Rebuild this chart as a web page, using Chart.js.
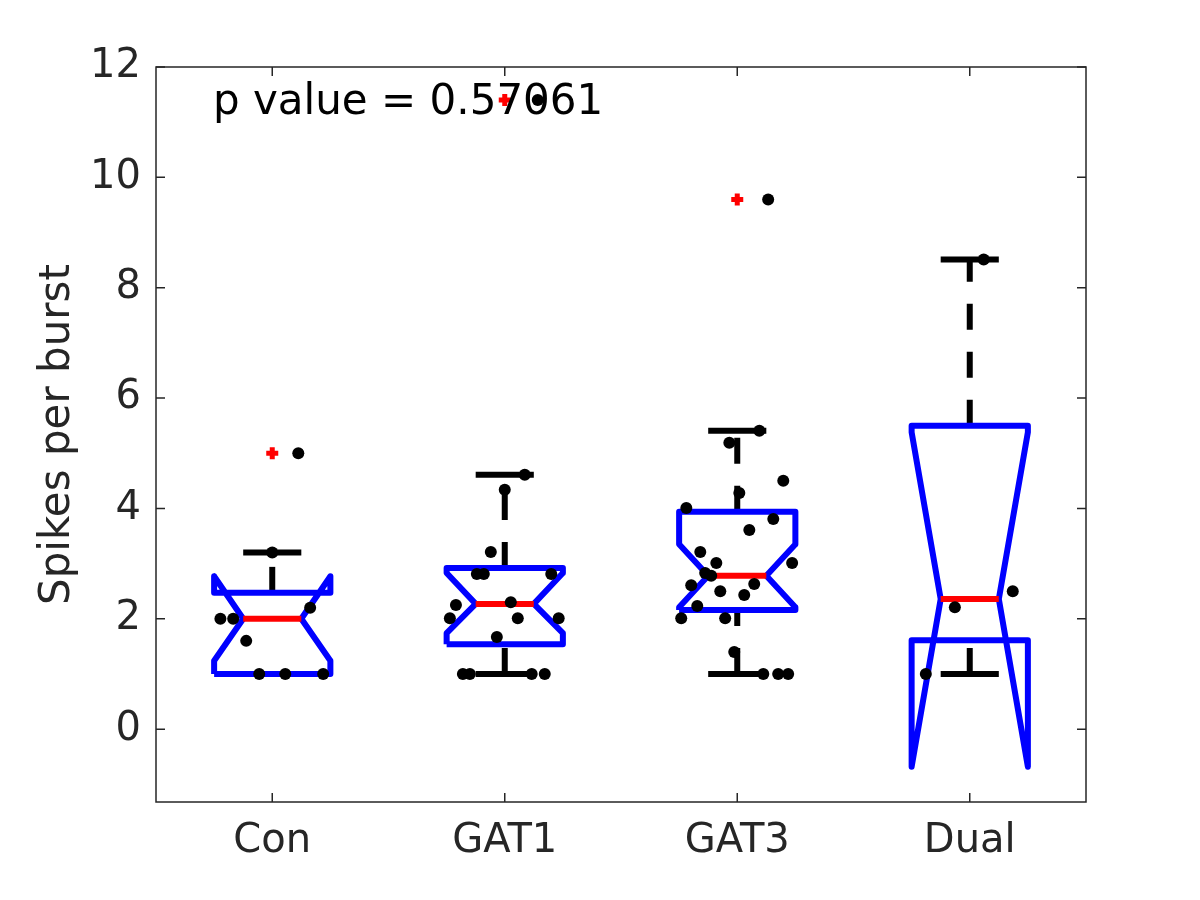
<!DOCTYPE html>
<html>
<head>
<meta charset="utf-8">
<script src="https://cdn.jsdelivr.net/npm/chart.js@4"></script>
<style>
  body { margin: 0; background: #fff; }
  canvas { display: block; }
</style>
</head>
<body>
<canvas id="boxChart" width="1200" height="900"></canvas>
<script>
const groups = ['Con', 'GAT1', 'GAT3', 'Dual'];
const yTicks = [0, 2, 4, 6, 8, 10, 12];
const pText = 'p value = 0.57061';

// box stats
const q1 = [1.0, 1.54, 2.16, 1.61];
const q3 = [2.47, 2.92, 3.94, 5.5];
const medians = [2.0, 2.27, 2.78, 2.36];
const notchLo = [1.24, 1.74, 2.21, -0.68];
const notchHi = [2.77, 2.83, 3.35, 5.38];
const whiskerLo = [1.0, 1.0, 1.0, 1.0];
const whiskerHi = [3.2, 4.61, 5.41, 8.51];
const outliers = [[5.0], [11.4], [9.6], []];

// raw points and their sideways jitter
const conY = [5.0, 3.2, 2.2, 2.0, 2.0, 1.6, 1.0, 1.0, 1.0];
const conDx = [0.112, 0, 0.163, -0.223, -0.168, -0.112, -0.056, 0.056, 0.219];
const gat1Y = [11.4, 4.61, 4.34, 3.21, 2.81, 2.81, 2.81, 2.25, 2.30, 2.01, 2.01, 2.01, 1.67, 1.0, 1.0, 1.0, 1.0];
const gat1Dx = [0.142, 0.086, 0, -0.06, -0.12, -0.09, 0.2, -0.21, 0.026, -0.236, 0.056, 0.232, -0.034, -0.18, -0.15, 0.116, 0.172];
const gat3Y = [9.6, 5.41, 5.19, 4.5, 4.28, 4.01, 3.81, 3.61, 3.21, 3.01, 3.01, 2.83, 2.78, 2.63, 2.61, 2.5, 2.43, 2.23, 2.01, 2.01, 1.4, 1.0, 1.0, 1.0];
const gat3Dx = [0.133, 0.095, -0.034, 0.198, 0.009, -0.219, 0.155, 0.052, -0.159, -0.09, 0.236, -0.138, -0.112, 0.073, -0.198, -0.073, 0.03, -0.172, -0.241, -0.052, -0.013, 0.112, 0.176, 0.219];
const dualY = [8.51, 2.5, 2.21, 1.0];
const dualDx = [0.06, 0.185, -0.064, -0.189];

const pointsY = [conY, gat1Y, gat3Y, dualY];
const pointsDx = [conDx, gat1Dx, gat3Dx, dualDx];

const boxW = 0.25;
const notchW = 0.125;
const capW = 0.125;

const lineSet = (data, color, order, dash) => ({
    type: 'scatter',
    data: data,
    showLine: true,
    borderColor: color,
    backgroundColor: color,
    borderWidth: 6,
    borderDash: dash || [],
    borderJoinStyle: 'round',
    pointRadius: 0,
    fill: false,
    tension: 0,
    order: order
});

const datasets = [];

groups.forEach((g, i) => {
    const c = i + 1;
    // jittered points on top
    datasets.push({
        data: pointsY[i].map((v, k) => ({ x: c + pointsDx[i][k], y: v })),
        pointStyle: 'circle',
        pointRadius: 6,
        borderWidth: 0,
        backgroundColor: '#000000',
        order: 0
    });
    if (outliers[i].length) {
        datasets.push({
            data: outliers[i].map(v => ({ x: c, y: v })),
            pointStyle: 'cross',
            pointRadius: 6,
            borderWidth: 5,
            borderColor: '#ff0000',
            order: 1
        });
    }
    datasets.push(lineSet([
        { x: c - notchW, y: medians[i] }, { x: c + notchW, y: medians[i] }
    ], '#ff0000', 2));
    datasets.push(lineSet([
        { x: c - boxW, y: q1[i] },
        { x: c - boxW, y: notchLo[i] },
        { x: c - notchW, y: medians[i] },
        { x: c - boxW, y: notchHi[i] },
        { x: c - boxW, y: q3[i] },
        { x: c + boxW, y: q3[i] },
        { x: c + boxW, y: notchHi[i] },
        { x: c + notchW, y: medians[i] },
        { x: c + boxW, y: notchLo[i] },
        { x: c + boxW, y: q1[i] },
        { x: c - boxW, y: q1[i] }
    ], '#0000ff', 3));
    datasets.push(lineSet([
        { x: c - capW, y: whiskerHi[i] }, { x: c + capW, y: whiskerHi[i] }
    ], '#000000', 4));
    datasets.push(lineSet([
        { x: c - capW, y: whiskerLo[i] }, { x: c + capW, y: whiskerLo[i] }
    ], '#000000', 4));
    datasets.push(lineSet([
        { x: c, y: q3[i] }, { x: c, y: whiskerHi[i] }
    ], '#000000', 5, [26, 22]));
    datasets.push(lineSet([
        { x: c, y: whiskerLo[i] }, { x: c, y: q1[i] }
    ], '#000000', 5, [26, 22]));
});

// axes box with inward ticks, plus the p value note
const frame = {
    id: 'frame',
    afterDatasetsDraw(chart) {
        const { ctx, chartArea: a, scales: { x, y } } = chart;
        ctx.save();
        ctx.strokeStyle = '#262626';
        ctx.lineWidth = 1.5;
        ctx.strokeRect(a.left, a.top, a.right - a.left, a.bottom - a.top);
        ctx.beginPath();
        yTicks.forEach(v => {
            const py = y.getPixelForValue(v);
            ctx.moveTo(a.left, py); ctx.lineTo(a.left + 9, py);
            ctx.moveTo(a.right, py); ctx.lineTo(a.right - 9, py);
        });
        groups.forEach((g, i) => {
            const px = x.getPixelForValue(i + 1);
            ctx.moveTo(px, a.bottom); ctx.lineTo(px, a.bottom - 9);
            ctx.moveTo(px, a.top); ctx.lineTo(px, a.top + 9);
        });
        ctx.stroke();
        ctx.fillStyle = '#000000';
        ctx.font = '42px "DejaVu Sans"';
        ctx.textBaseline = 'alphabetic';
        ctx.textAlign = 'left';
        ctx.fillText(pText, x.getPixelForValue(0.745), y.getPixelForValue(11.15));
        ctx.restore();
    }
};

const chart = new Chart(document.getElementById('boxChart'), {
    type: 'scatter',
    data: { datasets: datasets },
    plugins: [frame],
    options: {
        responsive: false,
        animation: false,
        devicePixelRatio: 1,
        events: [],
        layout: { padding: { left: 0, right: 114, top: 67, bottom: 0 } },
        plugins: {
            legend: { display: false },
            tooltip: { enabled: false }
        },
        scales: {
            x: {
                type: 'linear',
                min: 0.5,
                max: 4.5,
                grid: { display: false, drawTicks: false },
                border: { display: false },
                afterBuildTicks: scale => { scale.ticks = groups.map((g, i) => ({ value: i + 1 })); },
                afterFit: scale => { scale.height = 98; },
                ticks: {
                    padding: 16,
                    color: '#262626',
                    font: { family: 'DejaVu Sans', size: 40 },
                    callback: v => groups[v - 1]
                }
            },
            y: {
                type: 'linear',
                min: -1.32,
                max: 12,
                grid: { display: false, drawTicks: false },
                border: { display: false },
                afterBuildTicks: scale => { scale.ticks = yTicks.map(v => ({ value: v })); },
                afterFit: scale => { scale.width = 156; },
                ticks: {
                    padding: 15,
                    color: '#262626',
                    font: { family: 'DejaVu Sans', size: 40 }
                },
                title: {
                    display: true,
                    text: 'Spikes per burst',
                    color: '#262626',
                    font: { family: 'DejaVu Sans', size: 42 },
                    padding: { top: 33, bottom: 0 }
                }
            }
        }
    }
});
</script>
</body>
</html>
